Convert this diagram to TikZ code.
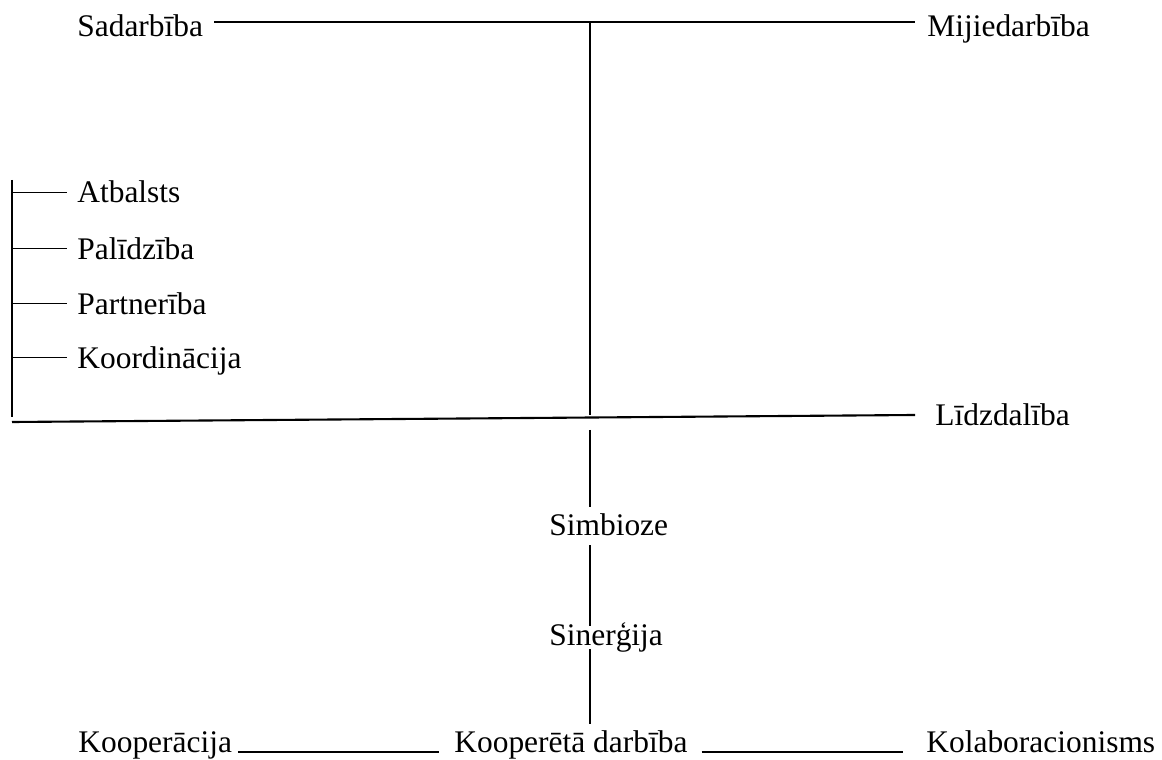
\documentclass[tikz,border=0pt]{standalone}
\usepackage{fontspec}
\setmainfont{Liberation Serif}
\begin{document}
\begin{tikzpicture}[x=0.02cm, y=-0.02cm, font=\fontsize{17.9}{21}\selectfont,
	word/.style={inner sep=0pt, anchor=base west, text height=0.7em, text depth=0.22em},
	bar/.style={line width=1.2pt},
	stem/.style={line width=1pt}]
	\useasboundingbox (0,0) rectangle (1162,760);
	\node[word] (sad) at (77,37) {Sadarbība};
	\node[word] (mij) at (927,37) {Mijiedarbība};
	\node[word] (atb) at (77,203) {Atbalsts};
	\node[word] (pal) at (77,259) {Palīdzība};
	\node[word] (par) at (77,314) {Partnerība};
	\node[word] (koord) at (77,368) {Koordinācija};
	\node[word] (lidz) at (935,425) {Līdzdalība};
	\node[word] (simb) at (549,535) {Simbioze};
	\node[word] (siner) at (549,645) {Sinerģija};
	\node[word] (koop) at (78,752) {Kooperācija};
	\node[word] (kd) at (454,752) {Kooperētā darbība};
	\node[word] (kol) at (926,752) {Kolaboracionisms};
	\coordinate (hub) at (590,22);
	\coordinate (cross) at (590,415);
	\coordinate (brtop) at (12,180);
	\coordinate (brbot) at (12,417);
	\coordinate (lidzend) at (12,422);
	\draw[bar] ([xshift=6.2pt,yshift=8.5pt]sad.base east) -- ([xshift=-6.8pt,yshift=8.5pt]mij.base west);
	\draw[stem] (hub) -- (cross);
	\draw[bar] (lidzend) -- ([xshift=-11.3pt,yshift=5.7pt]lidz.base west);
	\draw[stem] (brtop) -- (brbot);
	\foreach \n in {atb,pal,par,koord} {
		\coordinate (\n-tick) at ([xshift=-5.7pt,yshift=6pt]\n.base west);
		\draw[stem] (brtop |- \n-tick) -- (\n-tick);
	}
	\draw[stem, shorten <=8.5pt, shorten >=8.5pt] (cross) -- (cross |- simb.north);
	\draw[stem, shorten <=3.4pt, shorten >=3.4pt] (cross |- simb.south) -- (cross |- siner.north);
	\draw[stem, shorten >=8.5pt] (cross |- siner.south) -- (cross |- kd.north);
	\draw[bar] ([xshift=3.1pt]koop.base east) -- ([xshift=-8.5pt]kd.base west);
	\draw[bar] ([xshift=7.9pt]kd.base east) -- ([xshift=-13pt]kol.base west);
\end{tikzpicture}
\end{document}
